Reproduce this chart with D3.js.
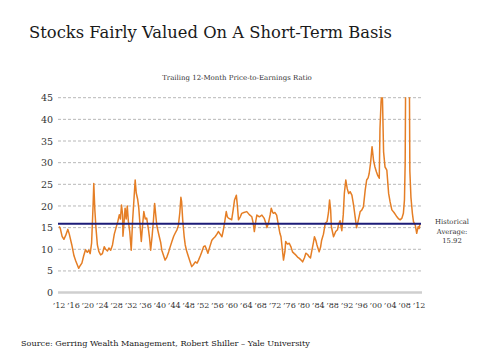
<!DOCTYPE html>
<html>
<head>
<meta charset="utf-8">
<script src="https://cdn.jsdelivr.net/npm/d3@7"></script>
<style>
  body { margin: 0; background: #fff; }
  svg { display: block; }
  svg text { font-family: "DejaVu Serif", serif !important; }
</style>
</head>
<body>
<svg id="chart" width="480" height="360"></svg>
<script>
// ---- Data ----
const years = [
1912.2,1912.5,1913.0,1913.5,1914.0,1914.6,1915.0,1915.7,1916.3,1916.8,1917.6,1918.0,1918.5,1919.0,1919.5,1920.0,1920.4,1920.8,
1921.2,1921.6,1921.8,1922.1,1922.4,1922.8,1923.2,1923.7,1924.2,1924.7,1925.1,1925.6,1926.0,1926.5,1927.0,1927.5,1928.0,1928.5,
1928.9,1929.2,1929.5,1929.8,1929.9,1930.2,1930.5,1930.8,1931.1,1931.4,1931.8,1932.2,1932.6,1933.0,1933.3,1933.6,1934.0,1934.3,
1934.7,1935.0,1935.4,1935.7,1936.1,1936.5,1937.0,1937.3,1937.6,1938.0,1938.4,1938.7,1939.0,1939.3,1939.7,1940.0,1940.4,1940.7,
1941.2,1941.6,1942.1,1942.6,1943.0,1943.5,1944.0,1944.4,1944.9,1945.3,1945.7,1946.0,1946.2,1946.5,1946.9,1947.2,1947.6,1948.1,
1948.6,1949.0,1949.5,1950.0,1950.5,1950.9,1951.4,1951.8,1952.3,1952.7,1953.2,1953.5,1954.0,1954.6,1955.0,1955.5,1956.0,1956.4,
1956.9,1957.4,1957.8,1958.2,1958.6,1958.9,1959.2,1959.7,1960.1,1960.5,1960.9,1961.4,1961.7,1962.0,1962.5,1962.9,1963.5,1964.3,
1965.0,1965.7,1966.1,1966.4,1966.8,1967.1,1967.8,1968.5,1969.1,1969.6,1969.9,1970.3,1970.8,1971.1,1971.5,1971.7,1972.1,1972.6,
1973.1,1973.5,1973.8,1974.2,1974.5,1974.9,1975.1,1975.6,1976.1,1976.6,1977.0,1977.5,1977.9,1978.4,1978.9,1979.4,1979.8,1980.3,
1980.7,1981.2,1981.6,1982.0,1982.4,1982.8,1983.1,1983.5,1983.8,1984.4,1984.8,1985.1,1985.6,1986.1,1986.6,1987.0,1987.3,1987.6,
1987.8,1988.4,1989.0,1989.5,1989.8,1990.2,1990.7,1991.1,1991.4,1991.8,1992.2,1992.6,1993.0,1993.5,1994.0,1994.4,1994.8,1995.2,
1995.8,1996.2,1996.7,1997.2,1997.6,1998.0,1998.3,1998.7,1999.1,1999.5,1999.9,2000.3,2000.7,2001.1,2001.3,2001.6,2001.8,2002.0,
2002.3,2002.7,2003.2,2003.7,2004.1,2004.6,2005.2,2005.6,2006.0,2006.5,2006.9,2007.4,2007.8,2008.1,2008.3,2008.5,2009.0,2009.4,
2009.6,2009.9,2010.3,2010.6,2011.1,2011.5,2011.9,2012.2,2012.4
];
const peRatio = [
15.3,14.8,13.0,12.3,13.2,14.6,13.5,11.0,8.5,7.3,5.6,6.2,6.8,8.5,9.9,9.3,9.8,9.0,
11.5,20.0,25.2,19.0,15.0,11.0,9.5,8.7,9.0,10.6,10.0,9.6,10.3,9.8,11.0,13.5,15.0,16.5,
18.0,17.0,20.2,18.0,13.0,16.0,19.5,17.0,20.0,16.5,14.0,9.8,16.8,22.0,26.0,23.0,21.5,19.5,
15.0,11.8,16.0,18.7,17.0,17.2,14.5,12.5,9.8,13.0,17.0,20.6,18.0,15.5,14.0,12.9,11.5,9.8,
8.5,7.5,8.2,9.4,10.5,11.8,13.0,13.7,14.5,15.5,18.5,22.0,21.0,16.8,13.0,11.0,9.6,8.3,
7.0,6.0,6.5,7.1,6.8,7.5,8.5,9.4,10.6,10.8,9.8,9.1,10.5,12.1,12.5,12.9,13.5,14.1,
13.5,12.9,14.5,16.5,18.7,17.5,17.2,17.0,16.8,19.0,21.4,22.5,20.0,16.8,17.5,18.3,18.5,18.7,
18.0,17.5,16.0,14.1,16.5,17.9,17.5,17.9,17.2,16.0,15.0,16.0,18.0,19.5,18.5,18.3,18.5,17.9,
15.5,13.7,12.9,9.8,7.5,9.5,11.8,11.2,11.4,10.5,9.4,9.0,8.7,8.2,7.9,7.5,7.1,8.0,
9.1,8.8,8.3,8.0,9.8,11.5,12.9,12.0,11.0,9.4,10.5,12.1,13.5,16.0,16.4,18.5,21.4,19.0,
15.2,12.9,14.1,14.5,15.8,16.6,14.3,18.0,22.9,26.0,24.0,22.9,23.3,22.5,20.0,17.5,15.0,16.4,
18.7,19.0,19.8,23.7,26.0,26.5,27.5,30.0,33.7,30.6,29.0,27.9,27.0,26.4,37.9,44.0,46.0,44.5,
32.5,29.0,28.3,22.9,21.0,19.1,18.5,18.0,17.5,17.0,16.8,17.2,18.3,21.4,30.0,60.0,120.0,60.0,
28.0,22.0,18.3,16.4,15.6,13.7,15.2,14.8,16.0
];
const yTicks = [0, 5, 10, 15, 20, 25, 30, 35, 40, 45];
const xTickYears = [1912,1916,1920,1924,1928,1932,1936,1940,1944,1948,1952,1956,1960,1964,1968,1972,1976,1980,1984,1988,1992,1996,2000,2004,2008,2012];
const historicalAverage = 15.92;
const titleText = "Stocks Fairly Valued On A Short-Term Basis";
const subtitleText = "Trailing 12-Month Price-to-Earnings Ratio";
const sourceText = "Source: Gerring Wealth Management, Robert Shiller \u2013 Yale University";
const annotationLines = ["Historical", "Average:", "15.92"];

// ---- Chart ----
const svg = d3.select("#chart");
const x = d3.scaleLinear().domain([1912, 2012]).range([58.5, 418.5]);
const y = d3.scaleLinear().domain([0, 45]).range([292.6, 97.7]);
const gridX1 = 58, gridX2 = 422;

function fitWidth(sel, size, target) {
  const w = sel.node().getComputedTextLength();
  const s = w > 0 ? size * target / w : size;
  sel.attr("font-size", s);
  return s;
}

// Title
const title = svg.append("text")
  .attr("x", 29).attr("y", 38)
  .attr("font-size", 21).attr("fill", "#1a1a1a")
  .text(titleText);
fitWidth(title, 21, 363);

const sub = svg.append("text")
  .attr("x", 237).attr("y", 80)
  .attr("text-anchor", "middle")
  .attr("font-size", 9).attr("fill", "#333")
  .text(subtitleText);
fitWidth(sub, 9, 150);

// Gridlines
svg.append("g").selectAll("line")
  .data(yTicks.filter(d => d > 0))
  .join("line")
  .attr("x1", gridX1).attr("x2", gridX2)
  .attr("y1", d => y(d)).attr("y2", d => y(d))
  .attr("stroke", "#b8b8b8").attr("stroke-width", 1)
  .attr("stroke-dasharray", "3,2");

// Baseline
svg.append("line")
  .attr("x1", gridX1).attr("x2", gridX2)
  .attr("y1", y(0)).attr("y2", y(0))
  .attr("stroke", "#cfcfcf").attr("stroke-width", 2.5);

// Y axis labels
const yAxis = d3.axisLeft(y).tickValues(yTicks).tickSize(0).tickPadding(0);
const yg = svg.append("g").attr("transform", "translate(53,0)").call(yAxis);
yg.select(".domain").remove();
yg.selectAll("text")
  .attr("font-size", 9.5).attr("fill", "#333");

// X axis labels
const xAxis = d3.axisBottom(x).tickValues(xTickYears)
  .tickFormat(d => "\u2019" + String(d).slice(2))
  .tickSize(0).tickPadding(0);
const xg = svg.append("g").attr("transform", "translate(0,302)").call(xAxis);
xg.select(".domain").remove();
xg.selectAll("text")
  .attr("font-size", 8).attr("fill", "#333");

// Clip for line
svg.append("clipPath").attr("id", "plotclip")
  .append("rect")
  .attr("x", gridX1 - 2).attr("y", y(45) - 0.5)
  .attr("width", gridX2 - gridX1 + 6).attr("height", y(0) - y(45) + 1);

const lineData = years.map((yr, i) => ({ yr, v: peRatio[i] }));
const line = d3.line().x(d => x(d.yr)).y(d => y(d.v)).curve(d3.curveLinear);

svg.append("path")
  .datum(lineData)
  .attr("clip-path", "url(#plotclip)")
  .attr("d", line)
  .attr("fill", "none")
  .attr("stroke", "#e57e25")
  .attr("stroke-width", 1.5)
  .attr("stroke-linejoin", "round");

// Average line
svg.append("line")
  .attr("x1", gridX1).attr("x2", gridX2 - 1)
  .attr("y1", y(historicalAverage)).attr("y2", y(historicalAverage))
  .attr("stroke", "#1c1c78").attr("stroke-width", 2);

// Annotation
const ann = svg.append("g").selectAll("text")
  .data(annotationLines)
  .join("text")
  .attr("x", 452)
  .attr("y", (d, i) => 224 + i * 9.5)
  .attr("text-anchor", "middle")
  .attr("font-size", 9).attr("fill", "#333")
  .text(d => d);
const annSize = fitWidth(d3.select(ann.nodes()[0]), 9, 34);
ann.attr("font-size", annSize);

// Source
const src = svg.append("text")
  .attr("x", 21).attr("y", 346)
  .attr("font-size", 10).attr("fill", "#1a1a1a")
  .text(sourceText);
fitWidth(src, 10, 289);
</script>
</body>
</html>
